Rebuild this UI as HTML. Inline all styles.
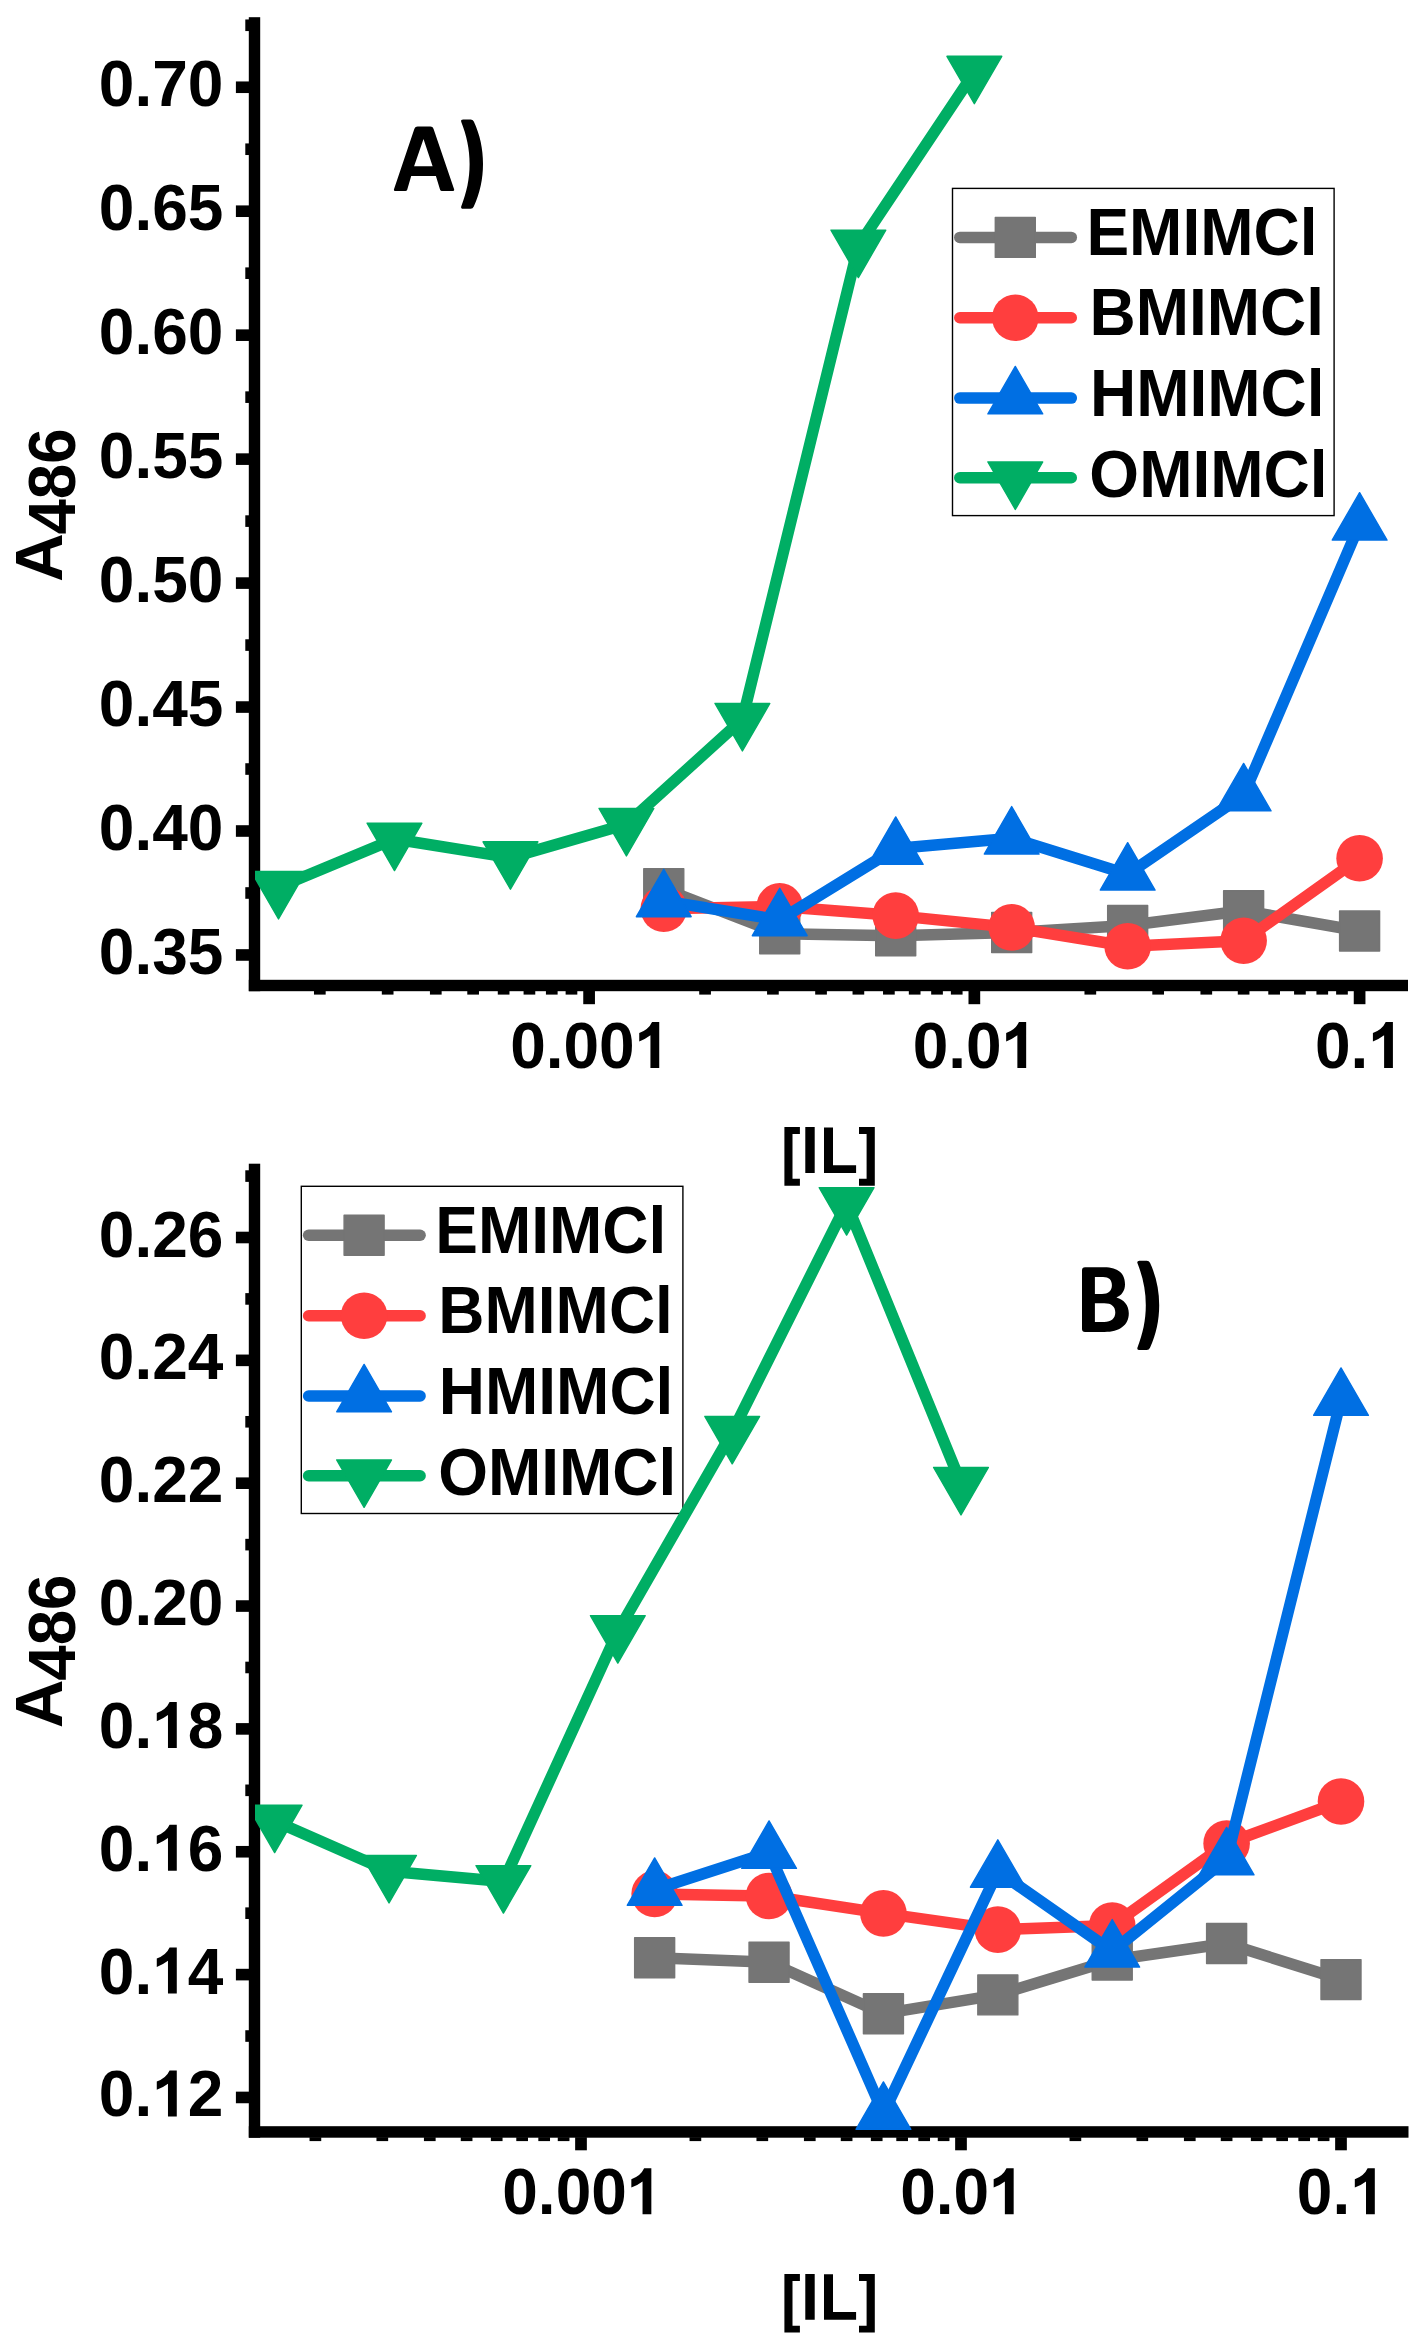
<!DOCTYPE html>
<html><head><meta charset="utf-8"><title>A486 vs [IL]</title>
<style>html,body{margin:0;padding:0;background:#fff;}svg{display:block;}</style>
</head><body>
<svg width="1421" height="2346" viewBox="0 0 1421 2346">
<defs>
<clipPath id="clipA"><rect x="255" y="-42.8" width="1213.5" height="1028.3"/></clipPath>
<clipPath id="clipB"><rect x="255" y="1103.7" width="1214" height="1028.25"/></clipPath>
</defs>
<rect width="1421" height="2346" fill="#fff"/>
<g fill="#000">
<rect x="248.8" y="17.2" width="11.4" height="974"/>
<rect x="248.8" y="979.8" width="1159.2" height="11.4"/>
<rect x="235.9" y="949.17" width="13.2" height="11.6"/>
<rect x="235.9" y="825.21" width="13.2" height="11.6"/>
<rect x="235.9" y="701.25" width="13.2" height="11.6"/>
<rect x="235.9" y="577.29" width="13.2" height="11.6"/>
<rect x="235.9" y="453.33" width="13.2" height="11.6"/>
<rect x="235.9" y="329.37" width="13.2" height="11.6"/>
<rect x="235.9" y="205.41" width="13.2" height="11.6"/>
<rect x="235.9" y="81.45" width="13.2" height="11.6"/>
<rect x="245.3" y="887.19" width="3.9" height="11.6"/>
<rect x="245.3" y="763.23" width="3.9" height="11.6"/>
<rect x="245.3" y="639.27" width="3.9" height="11.6"/>
<rect x="245.3" y="515.31" width="3.9" height="11.6"/>
<rect x="245.3" y="391.35" width="3.9" height="11.6"/>
<rect x="245.3" y="267.39" width="3.9" height="11.6"/>
<rect x="245.3" y="143.43" width="3.9" height="11.6"/>
<rect x="245.3" y="19.47" width="3.9" height="11.6"/>
<rect x="313.97" y="990.7" width="11.7" height="3.9"/>
<rect x="381.81" y="990.7" width="11.7" height="3.9"/>
<rect x="429.94" y="990.7" width="11.7" height="3.9"/>
<rect x="467.28" y="990.7" width="11.7" height="3.9"/>
<rect x="497.78" y="990.7" width="11.7" height="3.9"/>
<rect x="523.57" y="990.7" width="11.7" height="3.9"/>
<rect x="545.92" y="990.7" width="11.7" height="3.9"/>
<rect x="565.62" y="990.7" width="11.7" height="3.9"/>
<rect x="583.25" y="990.7" width="11.7" height="13.5"/>
<rect x="699.22" y="990.7" width="11.7" height="3.9"/>
<rect x="767.06" y="990.7" width="11.7" height="3.9"/>
<rect x="815.19" y="990.7" width="11.7" height="3.9"/>
<rect x="852.53" y="990.7" width="11.7" height="3.9"/>
<rect x="883.03" y="990.7" width="11.7" height="3.9"/>
<rect x="908.82" y="990.7" width="11.7" height="3.9"/>
<rect x="931.17" y="990.7" width="11.7" height="3.9"/>
<rect x="950.87" y="990.7" width="11.7" height="3.9"/>
<rect x="968.5" y="990.7" width="11.7" height="13.5"/>
<rect x="1084.47" y="990.7" width="11.7" height="3.9"/>
<rect x="1152.31" y="990.7" width="11.7" height="3.9"/>
<rect x="1200.44" y="990.7" width="11.7" height="3.9"/>
<rect x="1237.78" y="990.7" width="11.7" height="3.9"/>
<rect x="1268.28" y="990.7" width="11.7" height="3.9"/>
<rect x="1294.07" y="990.7" width="11.7" height="3.9"/>
<rect x="1316.42" y="990.7" width="11.7" height="3.9"/>
<rect x="1336.12" y="990.7" width="11.7" height="3.9"/>
<rect x="1353.75" y="990.7" width="11.7" height="13.5"/>
</g>
<g font-family="Liberation Sans" font-weight="bold" font-size="66.6" fill="#000">
<text transform="translate(98.83,973.97) scale(0.9785932721712537,1)" font-size="65.4">0.35</text>
<text transform="translate(98.83,850.01) scale(0.9785932721712537,1)" font-size="65.4">0.40</text>
<text transform="translate(98.83,726.05) scale(0.9785932721712537,1)" font-size="65.4">0.45</text>
<text transform="translate(98.83,602.09) scale(0.9785932721712537,1)" font-size="65.4">0.50</text>
<text transform="translate(98.83,478.13) scale(0.9785932721712537,1)" font-size="65.4">0.55</text>
<text transform="translate(98.83,354.17) scale(0.9785932721712537,1)" font-size="65.4">0.60</text>
<text transform="translate(98.83,230.21) scale(0.9785932721712537,1)" font-size="65.4">0.65</text>
<text transform="translate(98.83,106.25) scale(0.9785932721712537,1)" font-size="65.4">0.70</text>
<text transform="translate(510.17,1068) scale(0.9785932721712537,1)" font-size="65.4">0.00</text>
<path d="M650.44,1068 L659.24,1068 L659.24,1022 L652.04,1022 Q648.74,1029.5 639.24,1033 L639.24,1041.4 Q645.74,1038.8 650.44,1035.2 Z"/>
<text transform="translate(912.67,1068) scale(0.9785932721712537,1)" font-size="65.4">0.0</text>
<path d="M1017.37,1068 L1026.17,1068 L1026.17,1022 L1018.97,1022 Q1015.67,1029.5 1006.17,1033 L1006.17,1041.4 Q1012.67,1038.8 1017.37,1035.2 Z"/>
<text transform="translate(1314.97,1068) scale(0.9785932721712537,1)" font-size="65.4">0.</text>
<path d="M1384.11,1068 L1392.91,1068 L1392.91,1022 L1385.71,1022 Q1382.41,1029.5 1372.91,1033 L1372.91,1041.4 Q1379.41,1038.8 1384.11,1035.2 Z"/>
<path transform="translate(0,0)" d="M784.4,1127.1 H799.9 V1134.1 H792.5 V1178.8 H799.9 V1185.7 H784.4 Z M874.8,1127.1 H859 V1134.1 H866.6 V1178.8 H859 V1185.7 H874.8 Z M805.3,1127.1 H814.7 V1172.9 H805.3 Z M824,1127.4 H833 V1165.2 H856.1 V1172.9 H824 Z"/>
<text transform="translate(61.8,582.08) rotate(-90) scale(1.014,1)">A</text>
<text transform="translate(74.8,534.56) rotate(-90) scale(0.9545,1)">486</text>
<text transform="translate(1086.42,255) scale(0.961,1)">EMIMCl</text>
<text transform="translate(1089.52,335.4) scale(0.961,1)">BMIMCl</text>
<text transform="translate(1090.02,415.9) scale(0.961,1)">HMIMCl</text>
<text transform="translate(1089.37,496.7) scale(0.961,1)">OMIMCl</text>
</g>
<rect x="952.5" y="188.4" width="381.6" height="327.2" fill="none" stroke="#000" stroke-width="1.4"/>
<line x1="959.8" y1="237.4" x2="1071.3" y2="237.4" stroke="#757575" stroke-width="11.5" stroke-linecap="round"/>
<rect x="995.3" y="217.4" width="40" height="40" fill="#757575" stroke="#757575" stroke-width="1.4" stroke-linejoin="round"/>
<line x1="959.8" y1="317.8" x2="1071.3" y2="317.8" stroke="#ff3e3e" stroke-width="11.5" stroke-linecap="round"/>
<circle cx="1015.3" cy="317.8" r="23.3" fill="#ff3e3e"/>
<line x1="959.8" y1="398.1" x2="1071.3" y2="398.1" stroke="#006fe3" stroke-width="11.5" stroke-linecap="round"/>
<path d="M1015.3,366.46 L1042.7,413.92 L987.9,413.92 Z" fill="#006fe3" stroke="#006fe3" stroke-width="1.4" stroke-linejoin="round"/>
<line x1="959.8" y1="477.8" x2="1071.3" y2="477.8" stroke="#00ae64" stroke-width="11.5" stroke-linecap="round"/>
<path d="M1015.3,509.44 L987.9,461.98 L1042.7,461.98 Z" fill="#00ae64" stroke="#00ae64" stroke-width="1.4" stroke-linejoin="round"/>
<g clip-path="url(#clipA)">
<polyline points="663.77,888.8 779.74,933.8 895.71,935.7 1011.68,932.5 1127.66,925.5 1243.63,910.7 1359.6,931" fill="none" stroke="#757575" stroke-width="11.5" stroke-linejoin="round" stroke-linecap="round"/>
<rect x="643.77" y="868.8" width="40" height="40" fill="#757575" stroke="#757575" stroke-width="1.4" stroke-linejoin="round"/>
<rect x="759.74" y="913.8" width="40" height="40" fill="#757575" stroke="#757575" stroke-width="1.4" stroke-linejoin="round"/>
<rect x="875.71" y="915.7" width="40" height="40" fill="#757575" stroke="#757575" stroke-width="1.4" stroke-linejoin="round"/>
<rect x="991.68" y="912.5" width="40" height="40" fill="#757575" stroke="#757575" stroke-width="1.4" stroke-linejoin="round"/>
<rect x="1107.66" y="905.5" width="40" height="40" fill="#757575" stroke="#757575" stroke-width="1.4" stroke-linejoin="round"/>
<rect x="1223.63" y="890.7" width="40" height="40" fill="#757575" stroke="#757575" stroke-width="1.4" stroke-linejoin="round"/>
<rect x="1339.6" y="911" width="40" height="40" fill="#757575" stroke="#757575" stroke-width="1.4" stroke-linejoin="round"/>
<polyline points="663.77,908.7 779.74,906.4 895.71,915.6 1011.68,927.4 1127.66,946.3 1243.63,940.7 1359.6,858.3" fill="none" stroke="#ff3e3e" stroke-width="11.5" stroke-linejoin="round" stroke-linecap="round"/>
<circle cx="663.77" cy="908.7" r="23.3" fill="#ff3e3e"/>
<circle cx="779.74" cy="906.4" r="23.3" fill="#ff3e3e"/>
<circle cx="895.71" cy="915.6" r="23.3" fill="#ff3e3e"/>
<circle cx="1011.68" cy="927.4" r="23.3" fill="#ff3e3e"/>
<circle cx="1127.66" cy="946.3" r="23.3" fill="#ff3e3e"/>
<circle cx="1243.63" cy="940.7" r="23.3" fill="#ff3e3e"/>
<circle cx="1359.6" cy="858.3" r="23.3" fill="#ff3e3e"/>
<polyline points="663.77,900.9 779.74,919.9 895.71,848.5 1011.68,838.2 1127.66,874.3 1243.63,795.1 1359.6,524.3" fill="none" stroke="#006fe3" stroke-width="11.5" stroke-linejoin="round" stroke-linecap="round"/>
<path d="M663.77,869.26 L691.17,916.72 L636.37,916.72 Z" fill="#006fe3" stroke="#006fe3" stroke-width="1.4" stroke-linejoin="round"/>
<path d="M779.74,888.26 L807.14,935.72 L752.34,935.72 Z" fill="#006fe3" stroke="#006fe3" stroke-width="1.4" stroke-linejoin="round"/>
<path d="M895.71,816.86 L923.11,864.32 L868.31,864.32 Z" fill="#006fe3" stroke="#006fe3" stroke-width="1.4" stroke-linejoin="round"/>
<path d="M1011.68,806.56 L1039.08,854.02 L984.28,854.02 Z" fill="#006fe3" stroke="#006fe3" stroke-width="1.4" stroke-linejoin="round"/>
<path d="M1127.66,842.66 L1155.06,890.12 L1100.26,890.12 Z" fill="#006fe3" stroke="#006fe3" stroke-width="1.4" stroke-linejoin="round"/>
<path d="M1243.63,763.46 L1271.03,810.92 L1216.23,810.92 Z" fill="#006fe3" stroke="#006fe3" stroke-width="1.4" stroke-linejoin="round"/>
<path d="M1359.6,492.66 L1387,540.12 L1332.2,540.12 Z" fill="#006fe3" stroke="#006fe3" stroke-width="1.4" stroke-linejoin="round"/>
<polyline points="278.52,887.3 394.49,839 510.46,857.6 626.43,824.3 742.41,719.3 858.38,245.9 974.35,72.1" fill="none" stroke="#00ae64" stroke-width="11.5" stroke-linejoin="round" stroke-linecap="round"/>
<path d="M278.52,918.94 L251.12,871.48 L305.92,871.48 Z" fill="#00ae64" stroke="#00ae64" stroke-width="1.4" stroke-linejoin="round"/>
<path d="M394.49,870.64 L367.09,823.18 L421.89,823.18 Z" fill="#00ae64" stroke="#00ae64" stroke-width="1.4" stroke-linejoin="round"/>
<path d="M510.46,889.24 L483.06,841.78 L537.86,841.78 Z" fill="#00ae64" stroke="#00ae64" stroke-width="1.4" stroke-linejoin="round"/>
<path d="M626.43,855.94 L599.03,808.48 L653.83,808.48 Z" fill="#00ae64" stroke="#00ae64" stroke-width="1.4" stroke-linejoin="round"/>
<path d="M742.41,750.94 L715.01,703.48 L769.81,703.48 Z" fill="#00ae64" stroke="#00ae64" stroke-width="1.4" stroke-linejoin="round"/>
<path d="M858.38,277.54 L830.98,230.08 L885.78,230.08 Z" fill="#00ae64" stroke="#00ae64" stroke-width="1.4" stroke-linejoin="round"/>
<path d="M974.35,103.74 L946.95,56.28 L1001.75,56.28 Z" fill="#00ae64" stroke="#00ae64" stroke-width="1.4" stroke-linejoin="round"/>
</g>
<g fill="#000">
<rect x="248.8" y="1163.7" width="11.4" height="974"/>
<rect x="248.8" y="2126.2" width="1159.7" height="11.5"/>
<rect x="235.9" y="2091.65" width="13.2" height="11.6"/>
<rect x="235.9" y="1968.8" width="13.2" height="11.6"/>
<rect x="235.9" y="1845.95" width="13.2" height="11.6"/>
<rect x="235.9" y="1723.1" width="13.2" height="11.6"/>
<rect x="235.9" y="1600.25" width="13.2" height="11.6"/>
<rect x="235.9" y="1477.4" width="13.2" height="11.6"/>
<rect x="235.9" y="1354.55" width="13.2" height="11.6"/>
<rect x="235.9" y="1231.7" width="13.2" height="11.6"/>
<rect x="245.3" y="2030.23" width="3.9" height="11.6"/>
<rect x="245.3" y="1907.38" width="3.9" height="11.6"/>
<rect x="245.3" y="1784.52" width="3.9" height="11.6"/>
<rect x="245.3" y="1661.67" width="3.9" height="11.6"/>
<rect x="245.3" y="1538.83" width="3.9" height="11.6"/>
<rect x="245.3" y="1415.98" width="3.9" height="11.6"/>
<rect x="245.3" y="1293.12" width="3.9" height="11.6"/>
<rect x="245.3" y="1170.28" width="3.9" height="11.6"/>
<rect x="309.54" y="2137.2" width="11.7" height="3.9"/>
<rect x="376.46" y="2137.2" width="11.7" height="3.9"/>
<rect x="423.93" y="2137.2" width="11.7" height="3.9"/>
<rect x="460.76" y="2137.2" width="11.7" height="3.9"/>
<rect x="490.85" y="2137.2" width="11.7" height="3.9"/>
<rect x="516.29" y="2137.2" width="11.7" height="3.9"/>
<rect x="538.32" y="2137.2" width="11.7" height="3.9"/>
<rect x="557.76" y="2137.2" width="11.7" height="3.9"/>
<rect x="575.15" y="2137.2" width="11.7" height="13.1"/>
<rect x="689.54" y="2137.2" width="11.7" height="3.9"/>
<rect x="756.46" y="2137.2" width="11.7" height="3.9"/>
<rect x="803.93" y="2137.2" width="11.7" height="3.9"/>
<rect x="840.76" y="2137.2" width="11.7" height="3.9"/>
<rect x="870.85" y="2137.2" width="11.7" height="3.9"/>
<rect x="896.29" y="2137.2" width="11.7" height="3.9"/>
<rect x="918.32" y="2137.2" width="11.7" height="3.9"/>
<rect x="937.76" y="2137.2" width="11.7" height="3.9"/>
<rect x="955.15" y="2137.2" width="11.7" height="13.1"/>
<rect x="1069.54" y="2137.2" width="11.7" height="3.9"/>
<rect x="1136.46" y="2137.2" width="11.7" height="3.9"/>
<rect x="1183.93" y="2137.2" width="11.7" height="3.9"/>
<rect x="1220.76" y="2137.2" width="11.7" height="3.9"/>
<rect x="1250.85" y="2137.2" width="11.7" height="3.9"/>
<rect x="1276.29" y="2137.2" width="11.7" height="3.9"/>
<rect x="1298.32" y="2137.2" width="11.7" height="3.9"/>
<rect x="1317.76" y="2137.2" width="11.7" height="3.9"/>
<rect x="1335.15" y="2137.2" width="11.7" height="13.1"/>
</g>
<g font-family="Liberation Sans" font-weight="bold" font-size="66.6" fill="#000">
<text transform="translate(98.83,2116.45) scale(0.9785932721712537,1)" font-size="65.4">0.</text>
<path d="M167.97,2116.45 L176.78,2116.45 L176.78,2070.45 L169.58,2070.45 Q166.28,2077.95 156.78,2081.45 L156.78,2089.85 Q163.28,2087.25 167.97,2083.65 Z"/>
<text transform="translate(187.74,2116.45) scale(0.9785932721712537,1)" font-size="65.4">2</text>
<text transform="translate(98.83,1993.6) scale(0.9785932721712537,1)" font-size="65.4">0.</text>
<path d="M167.97,1993.6 L176.78,1993.6 L176.78,1947.6 L169.58,1947.6 Q166.28,1955.1 156.78,1958.6 L156.78,1967 Q163.28,1964.4 167.97,1960.8 Z"/>
<text transform="translate(187.74,1993.6) scale(0.9785932721712537,1)" font-size="65.4">4</text>
<text transform="translate(98.83,1870.75) scale(0.9785932721712537,1)" font-size="65.4">0.</text>
<path d="M167.97,1870.75 L176.78,1870.75 L176.78,1824.75 L169.58,1824.75 Q166.28,1832.25 156.78,1835.75 L156.78,1844.15 Q163.28,1841.55 167.97,1837.95 Z"/>
<text transform="translate(187.74,1870.75) scale(0.9785932721712537,1)" font-size="65.4">6</text>
<text transform="translate(98.83,1747.9) scale(0.9785932721712537,1)" font-size="65.4">0.</text>
<path d="M167.97,1747.9 L176.78,1747.9 L176.78,1701.9 L169.58,1701.9 Q166.28,1709.4 156.78,1712.9 L156.78,1721.3 Q163.28,1718.7 167.97,1715.1 Z"/>
<text transform="translate(187.74,1747.9) scale(0.9785932721712537,1)" font-size="65.4">8</text>
<text transform="translate(98.83,1625.05) scale(0.9785932721712537,1)" font-size="65.4">0.20</text>
<text transform="translate(98.83,1502.2) scale(0.9785932721712537,1)" font-size="65.4">0.22</text>
<text transform="translate(98.83,1379.35) scale(0.9785932721712537,1)" font-size="65.4">0.24</text>
<text transform="translate(98.83,1256.5) scale(0.9785932721712537,1)" font-size="65.4">0.26</text>
<text transform="translate(502.27,2214.2) scale(0.9785932721712537,1)" font-size="65.4">0.00</text>
<path d="M642.54,2214.2 L651.34,2214.2 L651.34,2168.2 L644.14,2168.2 Q640.84,2175.7 631.34,2179.2 L631.34,2187.6 Q637.84,2185 642.54,2181.4 Z"/>
<text transform="translate(900.17,2214.2) scale(0.9785932721712537,1)" font-size="65.4">0.0</text>
<path d="M1004.87,2214.2 L1013.67,2214.2 L1013.67,2168.2 L1006.47,2168.2 Q1003.17,2175.7 993.67,2179.2 L993.67,2187.6 Q1000.17,2185 1004.87,2181.4 Z"/>
<text transform="translate(1296.87,2214.2) scale(0.9785932721712537,1)" font-size="65.4">0.</text>
<path d="M1366.01,2214.2 L1374.81,2214.2 L1374.81,2168.2 L1367.61,2168.2 Q1364.31,2175.7 1354.81,2179.2 L1354.81,2187.6 Q1361.31,2185 1366.01,2181.4 Z"/>
<path transform="translate(0,1146.9)" d="M784.4,1127.1 H799.9 V1134.1 H792.5 V1178.8 H799.9 V1185.7 H784.4 Z M874.8,1127.1 H859 V1134.1 H866.6 V1178.8 H859 V1185.7 H874.8 Z M805.3,1127.1 H814.7 V1172.9 H805.3 Z M824,1127.4 H833 V1165.2 H856.1 V1172.9 H824 Z"/>
<text transform="translate(61.8,1728.18) rotate(-90) scale(1.014,1)">A</text>
<text transform="translate(74.8,1680.66) rotate(-90) scale(0.9545,1)">486</text>
<text transform="translate(435.22,1252.9) scale(0.961,1)">EMIMCl</text>
<text transform="translate(438.32,1333.3) scale(0.961,1)">BMIMCl</text>
<text transform="translate(438.82,1413.8) scale(0.961,1)">HMIMCl</text>
<text transform="translate(438.17,1494.6) scale(0.961,1)">OMIMCl</text>
</g>
<rect x="301.3" y="1186.3" width="381.6" height="327.2" fill="none" stroke="#000" stroke-width="1.4"/>
<line x1="308.6" y1="1235.3" x2="420.1" y2="1235.3" stroke="#757575" stroke-width="11.5" stroke-linecap="round"/>
<rect x="344.1" y="1215.3" width="40" height="40" fill="#757575" stroke="#757575" stroke-width="1.4" stroke-linejoin="round"/>
<line x1="308.6" y1="1315.7" x2="420.1" y2="1315.7" stroke="#ff3e3e" stroke-width="11.5" stroke-linecap="round"/>
<circle cx="364.1" cy="1315.7" r="23.3" fill="#ff3e3e"/>
<line x1="308.6" y1="1396" x2="420.1" y2="1396" stroke="#006fe3" stroke-width="11.5" stroke-linecap="round"/>
<path d="M364.1,1364.36 L391.5,1411.82 L336.7,1411.82 Z" fill="#006fe3" stroke="#006fe3" stroke-width="1.4" stroke-linejoin="round"/>
<line x1="308.6" y1="1475.7" x2="420.1" y2="1475.7" stroke="#00ae64" stroke-width="11.5" stroke-linecap="round"/>
<path d="M364.1,1507.34 L336.7,1459.88 L391.5,1459.88 Z" fill="#00ae64" stroke="#00ae64" stroke-width="1.4" stroke-linejoin="round"/>
<g clip-path="url(#clipB)">
<polyline points="654.65,1957.8 769.04,1962.2 883.43,2013.7 997.83,1994.9 1112.22,1960 1226.61,1943.5 1341,1979.6" fill="none" stroke="#757575" stroke-width="11.5" stroke-linejoin="round" stroke-linecap="round"/>
<rect x="634.65" y="1937.8" width="40" height="40" fill="#757575" stroke="#757575" stroke-width="1.4" stroke-linejoin="round"/>
<rect x="749.04" y="1942.2" width="40" height="40" fill="#757575" stroke="#757575" stroke-width="1.4" stroke-linejoin="round"/>
<rect x="863.43" y="1993.7" width="40" height="40" fill="#757575" stroke="#757575" stroke-width="1.4" stroke-linejoin="round"/>
<rect x="977.83" y="1974.9" width="40" height="40" fill="#757575" stroke="#757575" stroke-width="1.4" stroke-linejoin="round"/>
<rect x="1092.22" y="1940" width="40" height="40" fill="#757575" stroke="#757575" stroke-width="1.4" stroke-linejoin="round"/>
<rect x="1206.61" y="1923.5" width="40" height="40" fill="#757575" stroke="#757575" stroke-width="1.4" stroke-linejoin="round"/>
<rect x="1321" y="1959.6" width="40" height="40" fill="#757575" stroke="#757575" stroke-width="1.4" stroke-linejoin="round"/>
<polyline points="654.65,1893.9 769.04,1896 883.43,1913.4 997.83,1929.6 1112.22,1925.5 1226.61,1843.5 1341,1801.5" fill="none" stroke="#ff3e3e" stroke-width="11.5" stroke-linejoin="round" stroke-linecap="round"/>
<circle cx="654.65" cy="1893.9" r="23.3" fill="#ff3e3e"/>
<circle cx="769.04" cy="1896" r="23.3" fill="#ff3e3e"/>
<circle cx="883.43" cy="1913.4" r="23.3" fill="#ff3e3e"/>
<circle cx="997.83" cy="1929.6" r="23.3" fill="#ff3e3e"/>
<circle cx="1112.22" cy="1925.5" r="23.3" fill="#ff3e3e"/>
<circle cx="1226.61" cy="1843.5" r="23.3" fill="#ff3e3e"/>
<circle cx="1341" cy="1801.5" r="23.3" fill="#ff3e3e"/>
<polyline points="654.65,1889.5 769.04,1852.5 883.43,2113.5 997.83,1871.4 1112.22,1951.2 1226.61,1859.1 1341,1399.5" fill="none" stroke="#006fe3" stroke-width="11.5" stroke-linejoin="round" stroke-linecap="round"/>
<path d="M654.65,1857.86 L682.05,1905.32 L627.25,1905.32 Z" fill="#006fe3" stroke="#006fe3" stroke-width="1.4" stroke-linejoin="round"/>
<path d="M769.04,1820.86 L796.44,1868.32 L741.64,1868.32 Z" fill="#006fe3" stroke="#006fe3" stroke-width="1.4" stroke-linejoin="round"/>
<path d="M883.43,2081.86 L910.83,2129.32 L856.03,2129.32 Z" fill="#006fe3" stroke="#006fe3" stroke-width="1.4" stroke-linejoin="round"/>
<path d="M997.83,1839.76 L1025.23,1887.22 L970.43,1887.22 Z" fill="#006fe3" stroke="#006fe3" stroke-width="1.4" stroke-linejoin="round"/>
<path d="M1112.22,1919.56 L1139.62,1967.02 L1084.82,1967.02 Z" fill="#006fe3" stroke="#006fe3" stroke-width="1.4" stroke-linejoin="round"/>
<path d="M1226.61,1827.46 L1254.01,1874.92 L1199.21,1874.92 Z" fill="#006fe3" stroke="#006fe3" stroke-width="1.4" stroke-linejoin="round"/>
<path d="M1341,1367.86 L1368.4,1415.32 L1313.6,1415.32 Z" fill="#006fe3" stroke="#006fe3" stroke-width="1.4" stroke-linejoin="round"/>
<polyline points="274.65,1820.9 389.04,1871.3 503.43,1881.5 617.83,1631.4 732.22,1432.2 846.61,1203.5 961,1483.3" fill="none" stroke="#00ae64" stroke-width="11.5" stroke-linejoin="round" stroke-linecap="round"/>
<path d="M274.65,1852.54 L247.25,1805.08 L302.05,1805.08 Z" fill="#00ae64" stroke="#00ae64" stroke-width="1.4" stroke-linejoin="round"/>
<path d="M389.04,1902.94 L361.64,1855.48 L416.44,1855.48 Z" fill="#00ae64" stroke="#00ae64" stroke-width="1.4" stroke-linejoin="round"/>
<path d="M503.43,1913.14 L476.03,1865.68 L530.83,1865.68 Z" fill="#00ae64" stroke="#00ae64" stroke-width="1.4" stroke-linejoin="round"/>
<path d="M617.83,1663.04 L590.43,1615.58 L645.23,1615.58 Z" fill="#00ae64" stroke="#00ae64" stroke-width="1.4" stroke-linejoin="round"/>
<path d="M732.22,1463.84 L704.82,1416.38 L759.62,1416.38 Z" fill="#00ae64" stroke="#00ae64" stroke-width="1.4" stroke-linejoin="round"/>
<path d="M846.61,1235.14 L819.21,1187.68 L874.01,1187.68 Z" fill="#00ae64" stroke="#00ae64" stroke-width="1.4" stroke-linejoin="round"/>
<path d="M961,1514.94 L933.6,1467.48 L988.4,1467.48 Z" fill="#00ae64" stroke="#00ae64" stroke-width="1.4" stroke-linejoin="round"/>
</g>
<path d="M393.9,189.6 L414.4,128.8 Q415.2,126.6 417.6,126.6 L430.4,126.6 Q432.8,126.6 433.5,128.8 L454.2,189.6 Q454.6,191.1 452.6,191.1 L442,191.1 Q440.6,191.1 440.1,189.8 L435.9,176 L411.2,176 L407.2,189.8 Q406.8,191.1 405.3,191.1 L395.4,191.1 Q393.5,191.1 393.9,189.6 Z M423.5,138.9 L432.6,166.3 L414.1,166.3 Z" fill="#000" fill-rule="evenodd"/>
<path d="M461.2,121.8 Q460.6,119.5 463.2,119.5 L470.6,119.5 Q472.8,119.5 473.8,121.6 C480,135 483,149 483,164 C483,179 480,193 473.8,206.6 Q472.8,208.8 470.6,208.8 L463.2,208.8 Q460.6,208.8 461.2,206.5 C466.6,192.5 469.6,179 469.6,164 C469.6,149 466.6,135.6 461.2,121.8 Z" fill="#000"/>
<path d="M1082,1270.2 Q1082,1267.2 1085,1267.2 L1104,1267.2 C1118.5,1267.2 1125,1273.8 1125,1284.4 C1125,1290.8 1121.6,1295.3 1116.4,1297.4 C1124,1299.6 1128.8,1305.2 1128.8,1313.2 C1128.8,1325.2 1119.5,1331.9 1104.5,1331.9 L1085,1331.9 Q1082,1331.9 1082,1328.9 Z M1094.9,1277.1 L1103,1277.1 C1109,1277.1 1111.9,1280 1111.9,1285.2 C1111.9,1290.8 1108.2,1293.9 1102,1293.9 L1094.9,1293.9 Z M1094.9,1303.3 L1104.2,1303.3 C1111.6,1303.3 1115.3,1306.6 1115.3,1312.6 C1115.3,1318.6 1111.2,1321.9 1104.2,1321.9 L1094.9,1321.9 Z" fill="#000" fill-rule="evenodd"/>
<path d="M461.2,121.8 Q460.6,119.5 463.2,119.5 L470.6,119.5 Q472.8,119.5 473.8,121.6 C480,135 483,149 483,164 C483,179 480,193 473.8,206.6 Q472.8,208.8 470.6,208.8 L463.2,208.8 Q460.6,208.8 461.2,206.5 C466.6,192.5 469.6,179 469.6,164 C469.6,149 466.6,135.6 461.2,121.8 Z" fill="#000" transform="translate(676.2,1141.2)"/>
</svg>
</body></html>
